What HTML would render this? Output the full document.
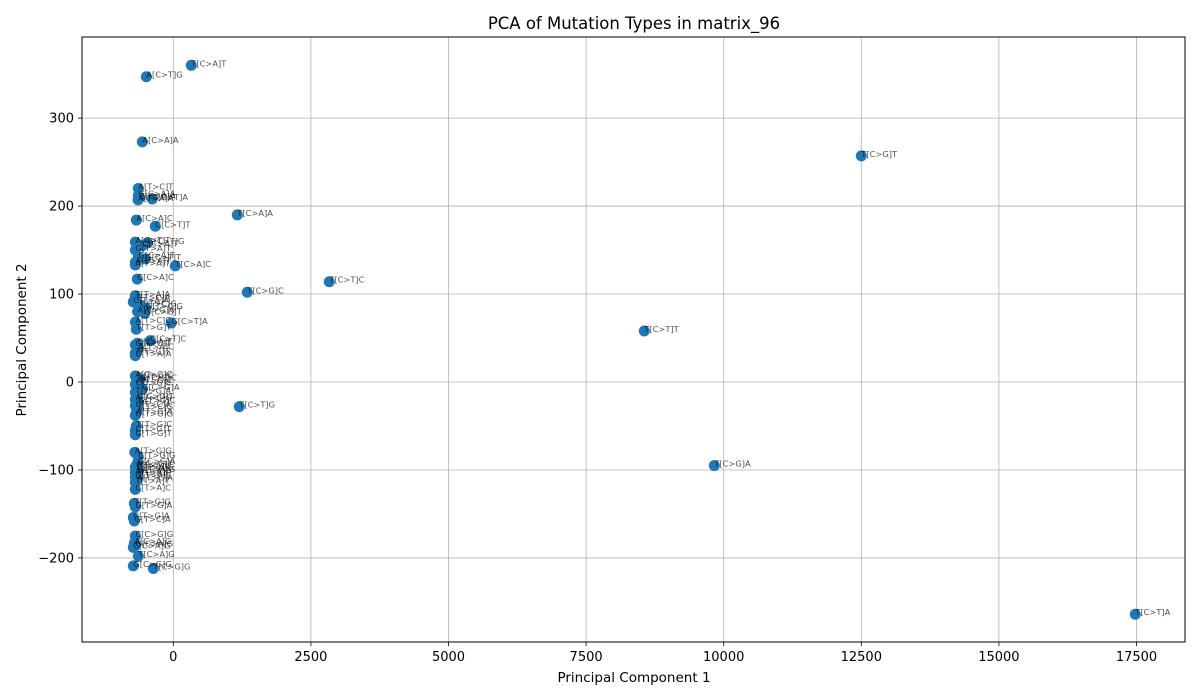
<!DOCTYPE html>
<html><head><meta charset="utf-8"><style>
body{margin:0;background:#fff;}
svg{display:block;font-family:"DejaVu Sans","Liberation Sans",sans-serif;}
</style></head><body>
<svg id="chart" width="1200" height="700" xmlns="http://www.w3.org/2000/svg">
<text x="634" y="29" text-anchor="middle" font-size="16.5" fill="#000">PCA of Mutation Types in matrix_96</text>
<text x="634" y="682" text-anchor="middle" font-size="13.5">Principal Component 1</text>
<text transform="translate(26,340) rotate(-90)" text-anchor="middle" font-size="13.5">Principal Component 2</text>
<g id="grid"></g><g id="ticks"></g><g id="points"></g><g id="labels"></g>
<rect x="82" y="37" width="1103" height="605" fill="none" stroke="#000" stroke-width="1"/>
</svg>
<script>
const xTicks=[0,2500,5000,7500,10000,12500,15000,17500];
const yTicks=[-200,-100,0,100,200,300];
const labels=["T[C>A]T","A[C>T]G","A[C>A]A","T[C>G]T","A[T>C]T","C[C>A]A","C[C>T]A","A[T>A]A","T[C>A]A","A[C>A]C","C[C>T]T","A[C>T]T","G[C>T]G","G[T>A]T","G[C>A]T","G[C>T]T","A[T>A]T","T[C>A]C","T[C>T]C","C[C>A]C","T[C>G]C","T[C>T]T","T[T>A]A","C[T>A]A","C[T>C]G","G[T>C]G","A[C>G]A","G[C>G]T","G[C>T]A","A[T>C]C","T[T>G]T","C[C>T]C","C[T>A]T","G[T>C]T","A[T>A]C","T[T>C]T","G[T>A]A","A[C>G]C","C[T>C]C","G[T>C]C","A[T>G]C","C[T>G]C","C[C>G]A","T[T>G]A","C[C>G]T","A[T>C]G","G[T>G]C","C[T>C]A","T[T>C]G","A[T>G]A","G[T>G]G","T[C>T]G","T[T>G]C","C[T>G]T","G[T>G]T","A[T>G]G","C[T>G]G","G[C>G]A","A[C>G]T","T[T>A]G","C[T>A]G","G[T>A]G","A[T>A]G","T[T>A]C","G[T>A]C","A[T>C]A","T[T>A]T","C[T>A]C","T[C>G]A","T[T>G]G","G[T>G]A","C[T>G]A","G[T>C]A","C[C>G]G","A[C>A]G","G[C>A]G","C[C>A]G","T[C>A]G","G[C>G]G","T[C>G]G","T[C>T]A","A[C>A]T","G[C>A]A","C[C>A]T","T[T>C]A"];
const pc1=[327,-490,-563,12500,-636,-618,-382,-640,1163,-672,-327,-690,-472,-690,-636,-509,-690,36,2834,-654,1344,8557,-690,-727,-600,-500,-650,-520,-36,-690,-672,-418,-654,-690,-636,-690,-690,-690,-654,-600,-672,-690,-560,-690,-654,-690,-636,-690,-654,-672,-690,1199,-672,-690,-690,-700,-636,-650,-672,-690,-654,-636,-690,-672,-690,-654,-690,-690,9830,-708,-690,-727,-708,-690,-708,-690,-727,-636,-727,-363,17478,-690,-636,-560,-690];
const pc2=[360,347,273,257,220,209,208,207,190,184,177,159,158,150,142,140,133,132,114,117,102,58,98,91,87,84,80,78,67,68,60,47,44,42,38,33,30,7,5,3,0,-3,-8,-12,-18,-20,-23,-27,-30,-35,-38,-28,-50,-55,-60,-80,-85,-92,-95,-97,-99,-101,-103,-105,-108,-111,-114,-122,-95,-138,-142,-154,-158,-175,-183,-186,-188,-198,-209,-212,-264,136,212,155,94];
const NS="http://www.w3.org/2000/svg";
const X=v=>173.3+v*0.05504;
const Y=v=>382-v*0.8797;
function mk(t,a,p){const e=document.createElementNS(NS,t);for(const k in a)e.setAttribute(k,a[k]);p.appendChild(e);return e;}
const grid=document.getElementById('grid'),ticks=document.getElementById('ticks');
xTicks.forEach(t=>{const x=X(t);
 const g=mk('line',{x1:x,x2:x,y1:37,y2:642,stroke:'#b0b0b0','stroke-width':0.8},grid);
 
 
 mk('line',{x1:x,x2:x,y1:642,y2:646,stroke:'#000','stroke-width':0.8},ticks);
 const l=mk('text',{x:x,y:661,'text-anchor':'middle','font-size':13},ticks);l.textContent=t;
 
 });
yTicks.forEach(t=>{const y=Y(t);
 const g=mk('line',{x1:82,x2:1185,y1:y,y2:y,stroke:'#b0b0b0','stroke-width':0.8},grid);
 
 
 mk('line',{x1:78,x2:82,y1:y,y2:y,stroke:'#000','stroke-width':0.8},ticks);
 const l=mk('text',{x:74,y:y+4.5,'text-anchor':'end','font-size':13},ticks);l.textContent=t<0?'\u2212'+(-t):t;
 
 });
const pts=document.getElementById('points'),lbs=document.getElementById('labels');
labels.forEach((n,i)=>{const x=X(pc1[i]),y=Y(pc2[i]);
 const c=mk('circle',{cx:x,cy:y,r:5.5,fill:'#1f77b4'},pts);
 
 
 const t=mk('text',{x:x,y:y+1,'font-size':8.3,fill:'#000','fill-opacity':0.7},lbs);t.textContent=n;
 
 });
</script>
</body></html>
